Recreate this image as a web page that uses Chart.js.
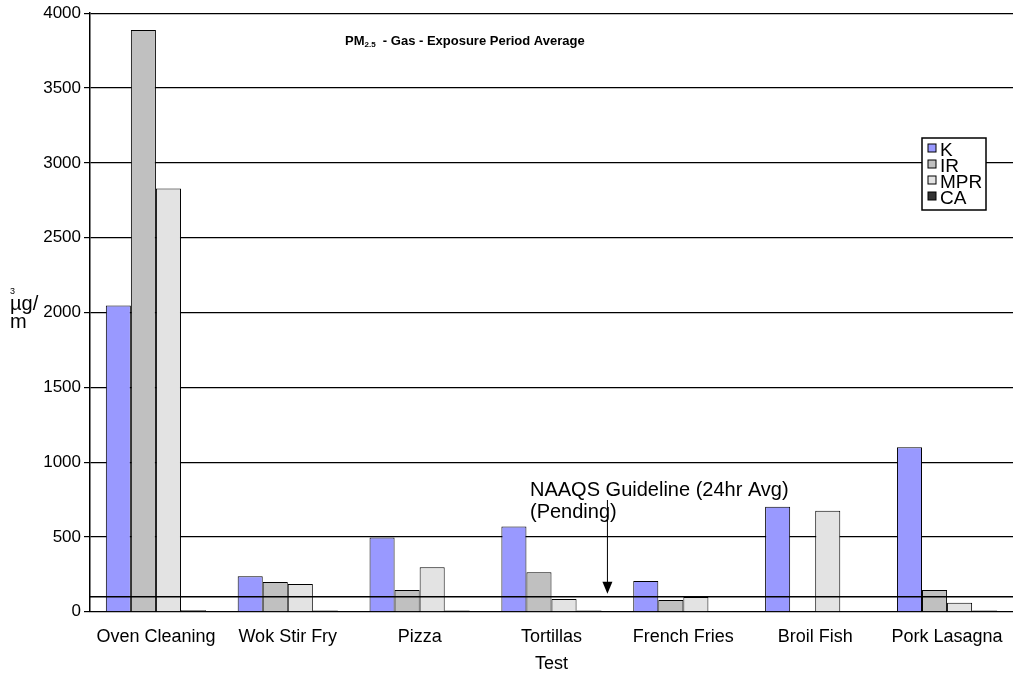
<!DOCTYPE html>
<html>
<head>
<meta charset="utf-8">
<script src="https://cdn.jsdelivr.net/npm/chart.js@4"></script>
<style>
  body { margin: 0; background: #fff; }
  #wrap { position: relative; width: 1013px; height: 683px; }
</style>
</head>
<body>
<div id="wrap"><canvas id="c" width="1013" height="683"></canvas></div>
<script>
// Data
const categories = ['Oven Cleaning', 'Wok Stir Fry', 'Pizza', 'Tortillas', 'French Fries', 'Broil Fish', 'Pork Lasagna'];
const seriesNames = ['K', 'IR', 'MPR', 'CA'];
const kValues = [2046, 238, 497, 570, 205, 702, 1099];
const irValues = [3887, 199, 146, 265, 79, 0, 146];
const mprValues = [2828, 185, 298, 86, 99, 675, 60];
const caValues = [10, 8, 8, 8, 6, 6, 8];
const seriesColors = ['#9999ff', '#c0c0c0', '#e3e3e3', '#333333'];
const guidelineValue = 100;

// Guideline line, arrow, title, unit label and legend box
const extras = {
    id: 'extras',
    afterDatasetsDraw(chart) {
        const { ctx, chartArea, scales } = chart;
        const y = scales.y.getPixelForValue(guidelineValue);
        ctx.save();
        ctx.strokeStyle = '#000';
        ctx.lineWidth = 1.5;
        ctx.beginPath();
        ctx.moveTo(chartArea.left, y);
        ctx.lineTo(chartArea.right, y);
        ctx.stroke();

        // arrow to guideline, between Tortillas and French Fries
        const ax = (scales.x.getPixelForValue(3) + scales.x.getPixelForValue(4)) / 2 - 10;
        ctx.lineWidth = 1;
        ctx.beginPath();
        ctx.moveTo(ax, 500);
        ctx.lineTo(ax, y - 6);
        ctx.stroke();
        ctx.beginPath();
        ctx.moveTo(ax - 5, y - 15);
        ctx.lineTo(ax + 5, y - 15);
        ctx.lineTo(ax, y - 3);
        ctx.closePath();
        ctx.fillStyle = '#000';
        ctx.fill();
        ctx.font = '20px "Liberation Sans"';
        ctx.textAlign = 'left';
        ctx.textBaseline = 'alphabetic';
        ctx.fillText('NAAQS Guideline (24hr Avg)', 530, 496);
        ctx.fillText('(Pending)', 530, 518);

        // title
        ctx.font = 'bold 13px "Liberation Sans"';
        let tx = 345;
        ctx.fillText('PM', tx, 45);
        tx += ctx.measureText('PM').width;
        ctx.font = 'bold 8px "Liberation Sans"';
        ctx.fillText('2.5', tx, 47);
        tx += ctx.measureText('2.5').width;
        ctx.font = 'bold 13px "Liberation Sans"';
        ctx.fillText('  - Gas - Exposure Period Average', tx, 45);

        // unit label, stacked as in the original
        ctx.font = '20px "Liberation Sans"';
        ctx.fillText('µg/', 10, 310);
        ctx.fillText('m', 10, 328);
        ctx.font = '9px "Liberation Sans"';
        ctx.fillText('3', 10, 294);

        // legend box
        ctx.fillStyle = '#fff';
        ctx.fillRect(922, 138, 64, 72);
        ctx.strokeStyle = '#000';
        ctx.lineWidth = 1.5;
        ctx.strokeRect(922, 138, 64, 72);
        seriesNames.forEach((name, i) => {
            const ly = 148 + i * 16;
            ctx.fillStyle = seriesColors[i];
            ctx.fillRect(928, ly - 4, 8, 8);
            ctx.strokeStyle = '#000';
            ctx.lineWidth = 1;
            ctx.strokeRect(928, ly - 4, 8, 8);
            ctx.fillStyle = '#000';
            ctx.font = '19px "Liberation Sans"';
            ctx.fillText(name, 940, ly + 8);
        });
        ctx.restore();
    }
};

new Chart(document.getElementById('c'), {
    type: 'bar',
    data: {
        labels: categories,
        datasets: [kValues, irValues, mprValues, caValues].map((vals, i) => ({
            label: seriesNames[i],
            data: vals,
            backgroundColor: seriesColors[i],
            borderColor: '#000',
            borderWidth: 1,
            categoryPercentage: 0.76,
            barPercentage: 1.0
        }))
    },
    options: {
        responsive: false,
        animation: false,
        layout: { padding: { left: 0, right: 0, top: 0, bottom: 8 } },
        plugins: { legend: { display: false }, tooltip: { enabled: false } },
        scales: {
            x: {
                grid: { display: false },
                border: { color: '#000' },
                ticks: { color: '#000', font: { family: 'Liberation Sans', size: 18 }, maxRotation: 0, padding: 6 },
                title: { display: true, text: 'Test', color: '#000', font: { family: 'Liberation Sans', size: 18 }, padding: 0 }
            },
            y: {
                min: 0, max: 4000,
                afterFit(s) { s.width = 90; },
                grid: { color: '#000', lineWidth: 1.2, drawTicks: true, tickLength: 6 },
                border: { color: '#000', width: 1.5 },
                ticks: { stepSize: 500, color: '#000', font: { family: 'Liberation Sans', size: 17 },
                    callback: v => String(v) }
            }
        }
    },
    plugins: [extras]
});
</script>
</body>
</html>
